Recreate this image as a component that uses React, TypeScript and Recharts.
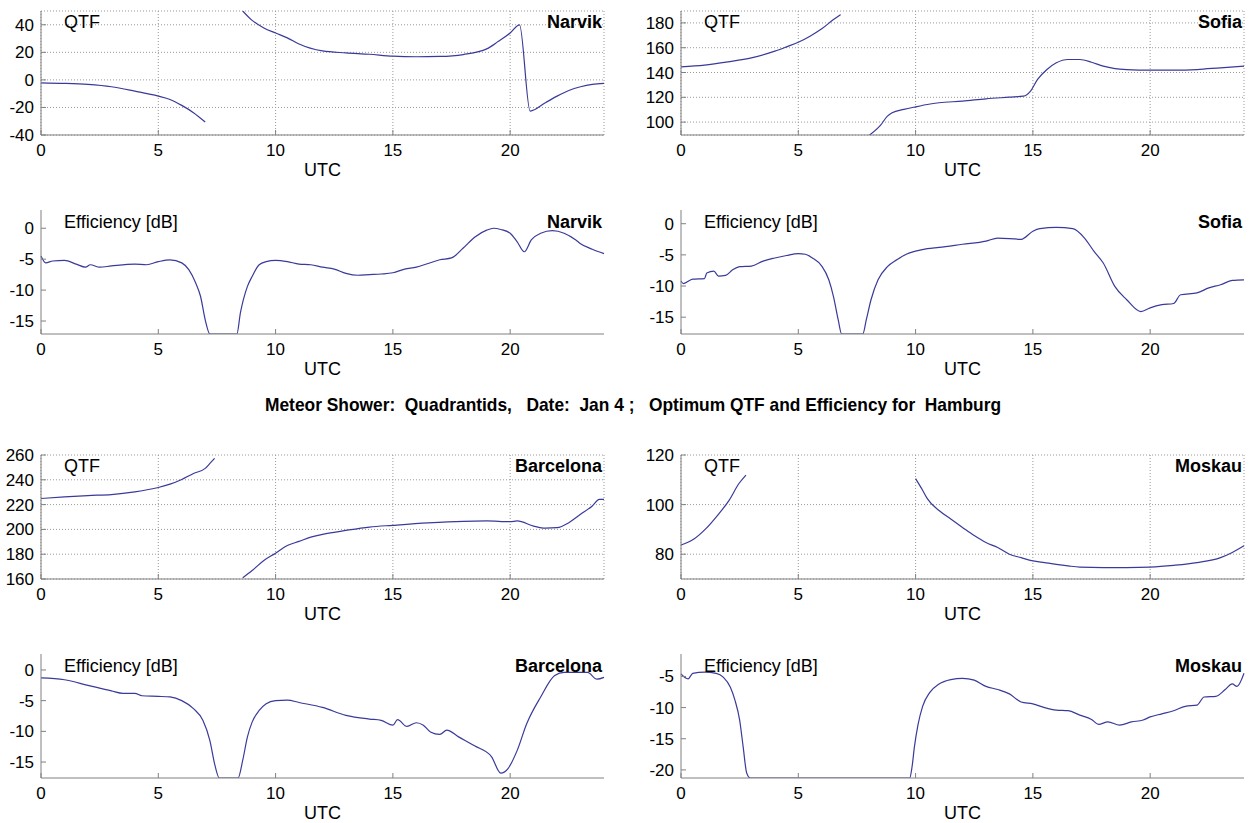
import React from "react"
import { LineChart, Line, XAxis, YAxis, CartesianGrid } from "recharts"

// UTC hours and values per panel (null = gap in the curve)
const narvikQtfT = [0, 1, 2, 3, 4, 5, 5.5, 6, 6.5, 7, 7.8, 8.6, 9, 9.5, 10, 10.5, 11, 12, 13, 14, 15, 16, 17, 18, 19, 19.5, 20, 20.4, 20.85, 21.5, 22, 22.5, 23, 23.5, 24]
const narvikQtfV = [-2.1, -2.5, -3.3, -5, -8.2, -11.8, -14.2, -18.5, -23.8, -30.6, null, 50, 43.2, 37.7, 34, 30.5, 26, 21, 19.6, 18.6, 17.2, 16.8, 17, 18.4, 22.5, 28, 34, 40, -22.6, -16.6, -11.8, -7.7, -5, -3.3, -2.6]

const narvikEffT = [0, 0.2, 0.5, 1, 1.5, 1.9, 2.1, 2.5, 3, 4, 4.5, 5, 5.5, 6, 6.3, 6.6, 6.8, 7, 7.2, 8.35, 8.5, 8.8, 9, 9.3, 9.6, 10, 10.5, 11, 11.5, 12, 12.5, 13, 13.5, 14, 14.5, 15, 15.5, 16, 16.5, 17, 17.5, 18, 18.5, 19, 19.3, 19.6, 20, 20.3, 20.6, 20.9, 21.3, 21.8, 22.3, 22.8, 23, 23.5, 24]
const narvikEffV = [-4.5, -5.6, -5.3, -5.2, -5.8, -6.3, -5.9, -6.3, -6.1, -5.8, -5.9, -5.4, -5.1, -5.6, -6.7, -8.9, -11, -14.8, -17.1, -17.1, -13.7, -9.4, -7.8, -5.9, -5.4, -5.2, -5.4, -5.8, -5.9, -6.3, -6.6, -7.3, -7.6, -7.5, -7.4, -7.2, -6.6, -6.3, -5.7, -5.1, -4.8, -3.2, -1.4, -0.3, 0, -0.2, -0.8, -2.2, -3.8, -1.9, -0.8, -0.4, -0.8, -1.9, -2.5, -3.4, -4.1]

const sofiaQtfT = [0, 1, 2, 3, 4, 4.5, 5, 5.5, 6, 6.5, 6.8, 7.4, 8, 8.5, 8.8, 9, 9.5, 10, 10.5, 11, 12, 13, 14, 14.6, 14.9, 15.2, 15.6, 16, 16.5, 17, 17.5, 18, 18.5, 19, 20, 21, 22, 23, 24]
const sofiaQtfV = [144.6, 146, 148.6, 151.8, 157.2, 160.7, 164.4, 169.3, 175.2, 182.7, 186.7, null, 89, 97.3, 104.8, 107.5, 110.2, 112.3, 114.2, 115.6, 116.9, 118.8, 120.1, 120.9, 125, 134.4, 142.4, 147.8, 150.5, 150.5, 148.3, 145.1, 143.2, 142.4, 141.9, 141.9, 142.4, 143.8, 145.1]

const sofiaEffT = [0, 0.1, 0.5, 1, 1.1, 1.4, 1.6, 1.9, 2.2, 2.5, 3, 3.5, 4, 4.5, 5, 5.3, 5.6, 6, 6.3, 6.5, 6.7, 6.85, 7.75, 7.9, 8.1, 8.4, 8.8, 9.2, 9.6, 10, 10.5, 11, 12, 13, 13.5, 14.5, 15, 15.3, 16, 16.7, 17.2, 17.6, 18, 18.5, 19, 19.6, 20, 20.5, 21, 21.3, 22, 22.5, 23, 23.5, 24]
const sofiaEffV = [-9.2, -9.6, -8.9, -8.8, -7.9, -7.6, -8.4, -8.3, -7.4, -6.9, -6.8, -6.0, -5.5, -5.1, -4.8, -4.9, -5.5, -6.8, -9.0, -11.7, -15.4, -17.7, -17.7, -15.4, -12.2, -9.0, -6.9, -5.8, -4.9, -4.4, -4.0, -3.8, -3.3, -2.8, -2.3, -2.5, -1.2, -0.8, -0.6, -0.8, -2.3, -4.4, -6.3, -10.1, -12.2, -14.1, -13.5, -13.0, -12.8, -11.4, -11.1, -10.3, -9.8, -9.1, -9.0]

const barcelonaQtfT = [0, 1, 2, 3, 4, 5, 5.5, 6, 6.5, 7, 7.2, 7.4, 8, 8.6, 9, 9.5, 10, 10.5, 11, 11.5, 12, 13, 14, 15, 16.5, 18, 19, 20, 20.3, 21, 21.5, 22, 22.5, 23, 23.5, 23.8, 24]
const barcelonaQtfV = [224.9, 226.2, 227.3, 228.1, 230.3, 233.8, 236.5, 240.3, 245.1, 249.2, 253.2, 257.3, null, 161, 166.8, 174.9, 180.8, 187, 190.3, 193.8, 196, 199.2, 201.9, 203.3, 205.2, 206.5, 206.8, 206.2, 206.8, 202.7, 201, 201.4, 205.4, 212.2, 218.9, 224.2, 224.2]

const barcelonaEffT = [0, 1, 2, 3, 3.5, 4, 4.3, 5, 5.5, 6, 6.5, 6.9, 7.2, 7.4, 7.6, 8.4, 8.6, 8.8, 9, 9.3, 9.6, 10, 10.5, 11, 12, 13, 14, 14.5, 15, 15.2, 15.6, 16, 16.3, 16.6, 17, 17.3, 17.8, 18.5, 19.2, 19.6, 19.9, 20.3, 20.7, 21.3, 21.9, 22.3, 23.3, 23.7, 24]
const barcelonaEffV = [-1.3, -1.6, -2.5, -3.4, -3.8, -3.8, -4.2, -4.3, -4.4, -5.0, -6.3, -8.2, -11.5, -15.3, -17.6, -17.6, -14.7, -10.9, -8.5, -6.6, -5.5, -5.0, -4.9, -5.3, -6.1, -7.4, -8.0, -8.2, -9.0, -8.1, -9.2, -8.6, -9.0, -10.1, -10.5, -9.8, -10.9, -12.4, -14.1, -16.8, -16.1, -13.1, -8.8, -4.4, -0.9, -0.4, -0.4, -1.5, -1.2]

const moskauQtfT = [0, 0.55, 1.05, 1.55, 2.05, 2.47, 2.77, 6, 10, 10.3, 10.5, 11, 11.5, 12, 12.5, 13, 13.5, 14, 14.5, 15, 15.5, 16, 16.5, 17, 18, 19, 20, 21, 22, 23, 23.5, 24]
const moskauQtfV = [83.7, 86.1, 90.2, 95.6, 101.7, 108.5, 111.9, null, 110.5, 105.8, 102.4, 97.6, 94.2, 90.8, 87.5, 84.7, 82.7, 80, 78.6, 77.3, 76.6, 75.9, 75.3, 74.8, 74.6, 74.6, 74.8, 75.5, 76.6, 78.6, 80.7, 83.4]

const moskauEffT = [0, 0.3, 0.5, 1, 1.5, 1.8, 2.1, 2.3, 2.5, 2.65, 2.8, 2.95, 9.75, 9.85, 9.95, 10.1, 10.3, 10.6, 11, 11.5, 12, 12.5, 13, 13.5, 14, 14.5, 15, 15.5, 16, 16.5, 17, 17.5, 17.8, 18.2, 18.7, 19.2, 19.7, 20, 20.5, 21, 21.5, 22, 22.3, 22.8, 23.2, 23.5, 23.7, 24]
const moskauEffV = [-4.6, -5.4, -4.5, -4.3, -4.5, -5.1, -6.7, -8.8, -12, -16.3, -20.5, -21.3, -21.3, -19.5, -16.3, -12.8, -9.8, -7.6, -6.2, -5.5, -5.3, -5.6, -6.6, -7.1, -7.8, -9.1, -9.4, -10, -10.4, -10.5, -11.2, -11.9, -12.7, -12.3, -12.8, -12.3, -12, -11.5, -11, -10.5, -9.8, -9.6, -8.3, -8.2, -7.1, -6.2, -6.6, -4.5]

const xTicks = [0, 5, 10, 15, 20]
const title = "Meteor Shower:  Quadrantids,   Date:  Jan 4 ;   Optimum QTF and Efficiency for  Hamburg"

const FONT = "'Liberation Sans', Arial, sans-serif"
const AXIS = "#808080"
const LINE = "#3a3a9a"
const PLOT_W = 563
const PLOT_H = 124
const Y_W = 41
const COLS = [41, 681]
const ROWS = [11, 210, 455, 654]

const zip = (t: number[], v: (number | null)[]) => t.map((x, i) => ({ t: x, v: v[i] }))

const XTick = (props: any) => {
  const { x, y, payload } = props
  return (
    <g>
      <line x1={x} x2={x} y1={y} y2={y - 5} stroke={AXIS} />
      <text x={x} y={y + 21} textAnchor="middle" fontSize={17} fontFamily={FONT} fill="#000">
        {payload.value}
      </text>
    </g>
  )
}

const YTick = (props: any) => {
  const { x, y, payload } = props
  return (
    <g>
      <line x1={x} x2={x + 5} y1={y} y2={y} stroke={AXIS} />
      <text x={x - 7} y={y + 6} textAnchor="end" fontSize={17} fontFamily={FONT} fill="#000">
        {payload.value}
      </text>
    </g>
  )
}

interface PanelProps {
  col: number
  row: number
  data: { t: number; v: number | null }[]
  domain: [number, number]
  yTicks: number[]
  grid?: boolean
}

function Panel({ col, row, data, domain, yTicks, grid }: PanelProps) {
  const top = 11
  return (
    <div style={{ position: "absolute", left: COLS[col] - Y_W, top: ROWS[row] - top }}>
      <LineChart
        width={Y_W + PLOT_W + 12}
        height={top + PLOT_H + 40}
        data={data}
        margin={{ top, right: 12, bottom: 0, left: 0 }}
      >
        {grid && <CartesianGrid strokeDasharray="1 2" stroke="#9a9a9a" />}
        <XAxis
          dataKey="t"
          type="number"
          domain={[0, 24]}
          ticks={xTicks}
          interval={0}
          height={40}
          tickSize={0}
          tickMargin={0}
          tickLine={false}
          axisLine={{ stroke: AXIS }}
          tick={<XTick />}
        />
        <YAxis
          type="number"
          domain={domain}
          ticks={yTicks}
          interval={0}
          allowDataOverflow
          width={Y_W}
          tickSize={0}
          tickMargin={0}
          tickLine={false}
          axisLine={{ stroke: AXIS }}
          tick={<YTick />}
        />
        <Line
          dataKey="v"
          type="monotone"
          stroke={LINE}
          strokeWidth={1.2}
          dot={false}
          connectNulls={false}
          isAnimationActive={false}
        />
      </LineChart>
    </div>
  )
}

const panels: PanelProps[] = [
  { col: 0, row: 0, data: zip(narvikQtfT, narvikQtfV), domain: [-40, 50], yTicks: [-40, -20, 0, 20, 40], grid: true },
  { col: 0, row: 1, data: zip(narvikEffT, narvikEffV), domain: [-17.1, 2.95], yTicks: [-15, -10, -5, 0] },
  { col: 1, row: 0, data: zip(sofiaQtfT, sofiaQtfV), domain: [89.6, 189.6], yTicks: [100, 120, 140, 160, 180], grid: true },
  { col: 1, row: 1, data: zip(sofiaEffT, sofiaEffV), domain: [-17.7, 2.2], yTicks: [-15, -10, -5, 0] },
  { col: 0, row: 2, data: zip(barcelonaQtfT, barcelonaQtfV), domain: [160, 260], yTicks: [160, 180, 200, 220, 240, 260], grid: true },
  { col: 0, row: 3, data: zip(barcelonaEffT, barcelonaEffV), domain: [-17.6, 2.6], yTicks: [-15, -10, -5, 0] },
  { col: 1, row: 2, data: zip(moskauQtfT, moskauQtfV), domain: [70, 120], yTicks: [80, 100, 120], grid: true },
  { col: 1, row: 3, data: zip(moskauEffT, moskauEffV), domain: [-21.3, -1.4], yTicks: [-20, -15, -10, -5] },
]

const stations = [
  { col: 0, row: 0, name: "Narvik" },
  { col: 0, row: 1, name: "Narvik" },
  { col: 1, row: 0, name: "Sofia" },
  { col: 1, row: 1, name: "Sofia" },
  { col: 0, row: 2, name: "Barcelona" },
  { col: 0, row: 3, name: "Barcelona" },
  { col: 1, row: 2, name: "Moskau" },
  { col: 1, row: 3, name: "Moskau" },
]

export default function App() {
  return (
    <div style={{ position: "absolute", left: 0, top: 0, width: 1253, height: 823, background: "#fff", overflow: "hidden" }}>
      {panels.map((p, i) => (
        <Panel key={i} {...p} />
      ))}
      <svg width={1253} height={823} style={{ position: "absolute", left: 0, top: 0, pointerEvents: "none" }}>
        {stations.map((s, i) => {
          const eff = s.row % 2 === 1
          const top = ROWS[s.row]
          const left = COLS[s.col]
          return (
            <g key={i} fontFamily={FONT} fontSize={18} fill="#000">
              <text x={left + 23} y={top + (eff ? 17.5 : 16.5)}>{eff ? "Efficiency [dB]" : "QTF"}</text>
              <text x={left + PLOT_W - 2} y={top + (eff ? 17.5 : 16.5)} textAnchor="end" fontWeight="bold">
                {s.name}
              </text>
              <text x={left + PLOT_W / 2} y={top + PLOT_H + 41} textAnchor="middle">UTC</text>
            </g>
          )
        })}
        <text
          x={265}
          y={411}
          fontFamily={FONT}
          fontSize={19}
          fontWeight="bold"
          textLength={736}
          lengthAdjust="spacingAndGlyphs"
          style={{ whiteSpace: "pre" }}
        >
          {title}
        </text>
      </svg>
    </div>
  )
}
